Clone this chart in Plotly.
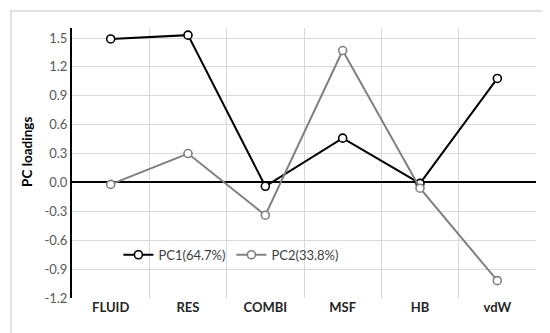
import plotly.graph_objects as go

categories = ["FLUID", "RES", "COMBI", "MSF", "HB", "vdW"]
pc1 = [1.49, 1.53, -0.04, 0.46, -0.01, 1.08]
pc2 = [-0.02, 0.30, -0.34, 1.37, -0.06, -1.02]
y_ticks = [-1.2, -0.9, -0.6, -0.3, 0.0, 0.3, 0.6, 0.9, 1.2, 1.5]
y_tick_labels = ["-1.2", "-0.9", "-0.6", "-0.3", "0.0", "0.3", "0.6", "0.9", "1.2", "1.5"]

FONT = "Lato, Open Sans, sans-serif"

fig = go.Figure()
fig.add_trace(go.Scatter(
    x=categories, y=pc1, mode="lines+markers", name="PC1(64.7%)",
    line=dict(color="black", width=2),
    marker=dict(symbol="circle", size=8, color="white", line=dict(color="black", width=1.6)),
))
fig.add_trace(go.Scatter(
    x=categories, y=pc2, mode="lines+markers", name="PC2(33.8%)",
    line=dict(color="#808080", width=2),
    marker=dict(symbol="circle", size=8, color="white", line=dict(color="#808080", width=1.6)),
))

fig.update_layout(
    width=550, height=333,
    margin=dict(l=64, r=22, t=20, b=43),
    paper_bgcolor="white", plot_bgcolor="white",
    font=dict(family=FONT, size=13, color="#595959"),
    showlegend=True,
    legend=dict(orientation="h", x=0.10, y=0.16, xanchor="left", yanchor="middle",
                bgcolor="rgba(0,0,0,0)", font=dict(size=13, color="#404040", family=FONT),
                tracegroupgap=0, entrywidth=68, entrywidthmode="pixels"),
    xaxis=dict(
        type="category", range=[-0.5, 5.5], tickson="boundaries",
        showgrid=True, gridcolor="#d9d9d9", gridwidth=1,
        ticks="", showline=False, zeroline=False,
        tickfont=dict(size=13, color="#262626", family=FONT, weight="bold"),
    ),
    yaxis=dict(
        range=[-1.2, 1.604], tickvals=y_ticks, ticktext=y_tick_labels,
        showgrid=True, gridcolor="#d9d9d9", gridwidth=1,
        zeroline=True, zerolinecolor="black", zerolinewidth=1.5,
        showline=True, linecolor="black", linewidth=2, ticks="",
        tickfont=dict(size=13, color="#595959", family=FONT),
    ),
    annotations=[dict(text="<b>PC loadings</b>", xref="paper", yref="paper",
                      x=-0.097, y=0.541, textangle=-90, showarrow=False,
                      xanchor="center", yanchor="middle",
                      font=dict(size=13.5, color="black", family=FONT))],
    shapes=[dict(type="rect", xref="paper", yref="paper",
                 x0=-0.1315, x1=1.0388, y0=-0.1407, y1=1.063,
                 line=dict(color="#d9d9d9", width=1.5), layer="below")],
)

fig.write_html("out.html")
